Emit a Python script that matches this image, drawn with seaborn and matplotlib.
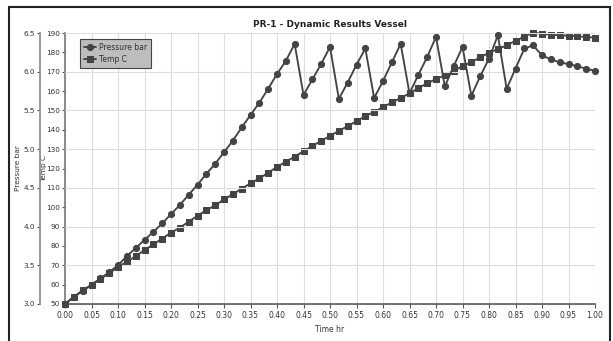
import matplotlib
matplotlib.use("Agg")
import matplotlib.pyplot as plt
from matplotlib.patches import Rectangle
import seaborn as sns
import pandas as pd

time_hr = [0.0, 0.0167, 0.0333, 0.05, 0.0667, 0.0833, 0.1, 0.1167, 0.1333, 0.15,
           0.1667, 0.1833, 0.2, 0.2167, 0.2333, 0.25, 0.2667, 0.2833, 0.3, 0.3167,
           0.3333, 0.35, 0.3667, 0.3833, 0.4, 0.4167, 0.4333, 0.45, 0.4667, 0.4833,
           0.5, 0.5167, 0.5333, 0.55, 0.5667, 0.5833, 0.6, 0.6167, 0.6333, 0.65,
           0.6667, 0.6833, 0.7, 0.7167, 0.7333, 0.75, 0.7667, 0.7833, 0.8, 0.8167,
           0.8333, 0.85, 0.8667, 0.8833, 0.9, 0.9167, 0.9333, 0.95, 0.9667, 0.9833, 1.0]

pressure_bar = [3.00, 3.09, 3.17, 3.25, 3.33, 3.41, 3.50, 3.62, 3.72, 3.83,
                3.93, 4.04, 4.16, 4.28, 4.41, 4.54, 4.68, 4.81, 4.96, 5.11,
                5.28, 5.44, 5.60, 5.78, 5.97, 6.14, 6.36, 5.70, 5.90, 6.10,
                6.32, 5.65, 5.86, 6.09, 6.30, 5.66, 5.88, 6.12, 6.36, 5.72,
                5.96, 6.19, 6.45, 5.81, 6.07, 6.32, 5.69, 5.94, 6.17, 6.47,
                5.78, 6.04, 6.30, 6.34, 6.21, 6.16, 6.12, 6.10, 6.07, 6.04, 6.01]

temp_c = [50.0, 53.8, 57.0, 59.8, 62.9, 65.9, 69.0, 71.9, 74.6, 77.9,
          80.8, 83.8, 86.8, 89.5, 92.5, 95.6, 98.4, 101.0, 104.0, 106.7,
          109.6, 112.3, 114.9, 117.8, 120.8, 123.5, 126.1, 128.9, 131.6, 134.3,
          136.8, 139.5, 141.8, 144.5, 147.0, 149.3, 151.6, 154.2, 156.4, 158.8,
          161.6, 164.0, 166.2, 168.2, 170.3, 173.0, 174.9, 177.4, 179.8, 181.7,
          183.6, 186.0, 188.1, 190.2, 189.6, 189.1, 188.8, 188.6, 188.3, 187.9, 187.6]

x_ticks = [0.00, 0.05, 0.10, 0.15, 0.20, 0.25, 0.30, 0.35, 0.40, 0.45, 0.50,
           0.55, 0.60, 0.65, 0.70, 0.75, 0.80, 0.85, 0.90, 0.95, 1.00]
temp_ticks = [50, 60, 70, 80, 90, 100, 110, 120, 130, 140, 150, 160, 170, 180, 190]
pressure_ticks = [3.0, 3.5, 4.0, 4.5, 5.0, 5.5, 6.0, 6.5]

sns.set_theme(style="white")
plt.rcParams['font.family'] = ['Liberation Sans Narrow', 'DejaVu Sans']

df = pd.DataFrame({"Time hr": time_hr, "Pressure bar": pressure_bar, "Temp C": temp_c})

LC = "#444444"
TS = 5.2
fig = plt.figure(figsize=(6.13, 3.41), dpi=100)
ax = fig.add_axes([65/613, 1-304/341, 530/613, 271/341])
ax2 = ax.twinx()

sns.lineplot(data=df, x="Time hr", y="Temp C", ax=ax, color=LC, marker="s",
             markersize=4.2, markeredgecolor=LC, linewidth=1.35, label="Temp C",
             legend=False, clip_on=False)
sns.lineplot(data=df, x="Time hr", y="Pressure bar", ax=ax2, color=LC, marker="o",
             markersize=4.4, markeredgecolor=LC, linewidth=1.35, label="Pressure bar",
             legend=False, clip_on=False)

ax.set_xlim(0, 1.0)
ax.set_ylim(50, 190)
ax2.set_ylim(3.0, 6.5)
ax.set_xticks(x_ticks)
ax.set_xticklabels([f"{v:.2f}" for v in x_ticks])
ax.set_yticks(temp_ticks)
ax2.set_yticks(pressure_ticks)
ax2.set_yticklabels([f"{v:.1f}" for v in pressure_ticks])

ax.grid(False)
ax2.grid(False)
ax.xaxis.grid(True, color="#dddddd", linewidth=0.8)
ax2.yaxis.grid(True, color="#dddddd", linewidth=0.8)
ax.set_axisbelow(True)
ax2.set_axisbelow(True)

ax2.yaxis.set_ticks_position("left")
ax2.yaxis.set_label_position("left")
ax2.spines["left"].set_position(("outward", 18))
for a in (ax, ax2):
    a.spines["top"].set_visible(False)
    a.spines["right"].set_visible(False)
ax2.spines["bottom"].set_visible(False)
ax.spines["left"].set_color("#777777")
ax.spines["left"].set_linewidth(1.2)
ax2.spines["left"].set_color("#888888")
ax2.spines["left"].set_linewidth(1.2)
ax.spines["bottom"].set_color("#555555")
ax.spines["bottom"].set_linewidth(1.2)

ax.tick_params(axis="x", direction="out", length=3, width=0.8, color="#555555",
               labelsize=5.5, labelcolor="#333333", pad=2, bottom=True)
ax.tick_params(axis="y", direction="out", length=2.5, width=0.8, color="#555555",
               labelsize=TS, labelcolor="#333333", pad=1, left=True)
ax2.tick_params(axis="y", direction="out", length=2.5, width=0.8, color="#555555",
                labelsize=TS, labelcolor="#333333", pad=1, left=True, right=False)

ax.set_xlabel("Time hr", fontsize=5.5, color="#333333", labelpad=4)
ax.set_ylabel("Temp C", fontsize=5.3, color="#333333")
ax2.set_ylabel("Pressure bar", fontsize=5.3, color="#333333")
ax.yaxis.set_label_coords(-0.034, 0.5)
ax2.yaxis.set_label_coords(-0.083, 0.5)
ax.set_title("PR-1 - Dynamic Results Vessel", fontsize=6.5, fontweight="bold",
             color="#222222", pad=4)

h2, l2 = ax2.get_legend_handles_labels()
h1, l1 = ax.get_legend_handles_labels()
leg = ax2.legend(h2 + h1, l2 + l1, loc="upper left", bbox_to_anchor=(0.028, 0.978),
                 borderaxespad=0, frameon=True, fancybox=False, framealpha=1,
                 facecolor="#bdbdbd", edgecolor="#444444", fontsize=5.5,
                 handlelength=1.6, handletextpad=0.4, borderpad=0.5, labelspacing=0.4)
for t in leg.get_texts():
    t.set_color("#333333")
leg.get_frame().set_linewidth(0.8)

fig.patches.append(Rectangle((9/613, -0.1), (610-9)/613, (1-7/341)+0.1,
                             transform=fig.transFigure, fill=False,
                             edgecolor="#222222", linewidth=1.5))

fig.savefig("out.png", dpi=100)
